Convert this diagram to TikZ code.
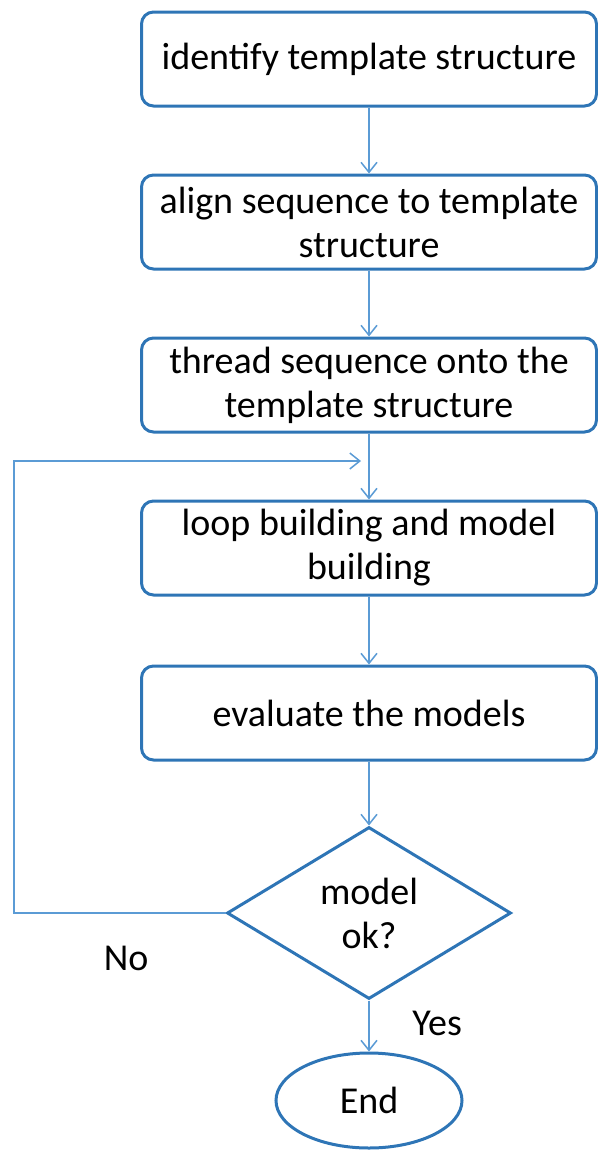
\documentclass[tikz,border=0pt]{standalone}
\usepackage{fontspec}
\setmainfont{Carlito}
\usepackage{tikz}
\usetikzlibrary{arrows.meta, positioning, shapes.geometric}
\definecolor{boxblue}{RGB}{46,117,182}
\definecolor{lineblue}{RGB}{91,155,213}
\tikzstyle{process}=[rectangle, rounded corners=6pt, draw=boxblue, line width=1.5pt, minimum width=227.5pt, minimum height=47pt, inner sep=2pt, align=center]
\tikzstyle{decision}=[diamond, draw=boxblue, line width=1.5pt, minimum width=142pt, minimum height=86pt, inner sep=0pt, align=center]
\tikzstyle{terminal}=[ellipse, draw=boxblue, line width=1.5pt, minimum width=93pt, minimum height=47.5pt, inner sep=0pt]
\tikzstyle{link}=[draw=lineblue, line width=0.75pt]

\begin{document}
\begin{tikzpicture}[->, >={Straight Barb[length=5pt, width=8pt]}, x=0.5pt, y=-0.5pt, node distance=33pt, font=\fontsize{19}{22}\selectfont]
    \useasboundingbox (0,0) rectangle (598,1151);
    \node[process] (identify) at (369,59)  {identify template structure};
    \node[process] (align)    [below=of identify]     {align sequence to template\\structure};
    \node[process] (thread)   [below=of align]        {thread sequence onto the\\template structure};
    \node[process] (build)    [below=of thread]       {loop building and model\\building};
    \node[process] (evaluate) [below=34pt of build]   {evaluate the models};
    \node[decision] (check)   [below=32pt of evaluate] {model\\ok?};
    \node[terminal] (end)     [below=25.5pt of check] {End};
    \coordinate[below=13.75pt of thread, xshift=-4pt] (loopend);
    \coordinate[left=173.5pt of loopend] (loopcorner);

    \path[link]
      (identify) edge (align)
      (align) edge (thread)
      (thread) edge (build)
      (build) edge (evaluate)
      (evaluate) edge (check)
      (check) edge node[right=18pt, pos=0.45] {Yes} (end);
    \draw[link] (check.west) -| node[pos=0.235, below=13pt] {No} (loopcorner) -- (loopend);
  \end{tikzpicture}
\end{document}
